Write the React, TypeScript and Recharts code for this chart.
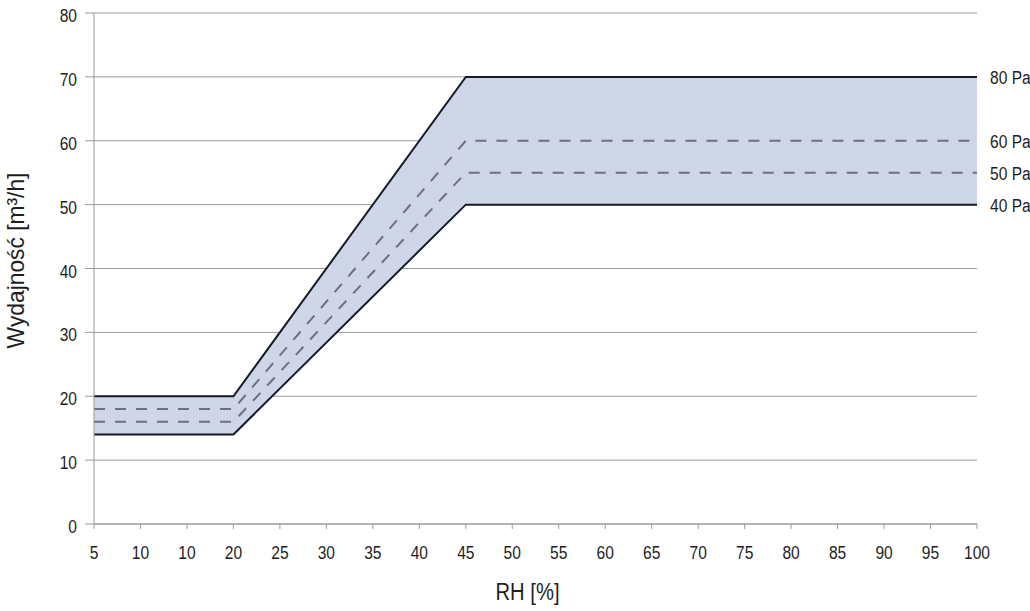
import React from "react";
import {
  ComposedChart,
  Area,
  Line,
  XAxis,
  YAxis,
  CartesianGrid,
} from "recharts";

// RH breakpoints [%] and flow [m3/h] per pressure
const rh = [5, 20, 45, 100];
const pa40 = [14, 14, 50, 50];
const pa50 = [16, 16, 55, 55];
const pa60 = [18, 18, 60, 60];
const pa80 = [20, 20, 70, 70];

// axis ticks (the third label reads "10" in the original)
const xTicks = [5, 10, 15, 20, 25, 30, 35, 40, 45, 50, 55, 60, 65, 70, 75, 80, 85, 90, 95, 100];
const xTickLabels = ["5", "10", "10", "20", "25", "30", "35", "40", "45", "50", "55", "60", "65", "70", "75", "80", "85", "90", "95", "100"];
const yTicks = [0, 10, 20, 30, 40, 50, 60, 70, 80];

const data = rh.map((x, i) => ({
  rh: x,
  band: [pa40[i], pa80[i]],
  pa40: pa40[i],
  pa50: pa50[i],
  pa60: pa60[i],
  pa80: pa80[i],
}));

// Liberation Sans squeezed horizontally to mimic a condensed face
const FONT = "'Liberation Sans', Arial, sans-serif";
const INK = "#1e1e1e";
const GRID = "#9a9a9a";
const SQUEEZE = 0.82;

const XTick = (props: any) => {
  const { x, y, payload } = props;
  const i = xTicks.indexOf(payload.value);
  return (
    <text
      transform={`translate(${x},${y + 28}) scale(${SQUEEZE},1)`}
      textAnchor="middle"
      fontFamily={FONT}
      fontSize={19}
      fill={INK}
    >
      {xTickLabels[i]}
    </text>
  );
};

const YTick = (props: any) => {
  const { x, y, payload } = props;
  return (
    <text
      transform={`translate(${x},${y + 9}) scale(${SQUEEZE},1)`}
      textAnchor="end"
      fontFamily={FONT}
      fontSize={19}
      fill={INK}
    >
      {payload.value}
    </text>
  );
};

const endLabel = (text: string) => (props: any) => {
  const { x, y, index } = props;
  if (index !== data.length - 1) return null;
  return (
    <text
      transform={`translate(${x + 13},${y + 7}) scale(${SQUEEZE},1)`}
      fontFamily={FONT}
      fontSize={19}
      fill={INK}
    >
      {text}
    </text>
  );
};

const XTitle = (props: any) => {
  const { viewBox } = props;
  const cx = viewBox.x + viewBox.width / 2 - 8;
  return (
    <text
      transform={`translate(${cx},600) scale(0.86,1)`}
      textAnchor="middle"
      fontFamily={FONT}
      fontSize={23.5}
      fill={INK}
    >
      RH [%]
    </text>
  );
};

const YTitle = (props: any) => {
  const { viewBox } = props;
  const cy = viewBox.y + viewBox.height / 2 - 8;
  return (
    <text
      transform={`translate(24,${cy}) rotate(-90) scale(0.97,1)`}
      textAnchor="middle"
      fontFamily={FONT}
      fontSize={23.5}
      fill={INK}
    >
      Wydajność [m³/h]
    </text>
  );
};

export default function App() {
  return (
    <div style={{ position: "absolute", left: 0, top: 0, background: "#fff" }}>
      <ComposedChart
        width={1030}
        height={611}
        data={data}
        margin={{ top: 13, right: 53, left: 0, bottom: 27 }}
      >
        <Area
          dataKey="band"
          type="linear"
          fill="#cfd6e8"
          fillOpacity={1}
          stroke="none"
          isAnimationActive={false}
        />
        <CartesianGrid vertical={false} stroke={GRID} />
        <XAxis
          dataKey="rh"
          type="number"
          domain={[5, 100]}
          ticks={xTicks}
          interval={0}
          height={60}
          tickSize={5}
          tickMargin={2}
          stroke={GRID}
          tick={<XTick />}
          label={{ content: <XTitle /> }}
        />
        <YAxis
          yAxisId={0}
          domain={[0, 80]}
          ticks={yTicks}
          width={94}
          tickSize={9}
          tickMargin={8}
          stroke={GRID}
          tick={<YTick />}
          label={{ content: <YTitle /> }}
        />
        <YAxis
          yAxisId="right"
          orientation="right"
          domain={[0, 80]}
          width={0}
          tick={false}
          tickLine={false}
          stroke={GRID}
        />
        <Line
          dataKey="pa60"
          type="linear"
          stroke="#6b7180"
          strokeWidth={2}
          strokeDasharray="11 10"
          dot={false}
          label={endLabel("60 Pa")}
          isAnimationActive={false}
        />
        <Line
          dataKey="pa50"
          type="linear"
          stroke="#6b7180"
          strokeWidth={2}
          strokeDasharray="11 10"
          dot={false}
          label={endLabel("50 Pa")}
          isAnimationActive={false}
        />
        <Line
          dataKey="pa80"
          type="linear"
          stroke="#141a28"
          strokeWidth={2}
          dot={false}
          label={endLabel("80 Pa")}
          isAnimationActive={false}
        />
        <Line
          dataKey="pa40"
          type="linear"
          stroke="#141a28"
          strokeWidth={2}
          dot={false}
          label={endLabel("40 Pa")}
          isAnimationActive={false}
        />
      </ComposedChart>
    </div>
  );
}
